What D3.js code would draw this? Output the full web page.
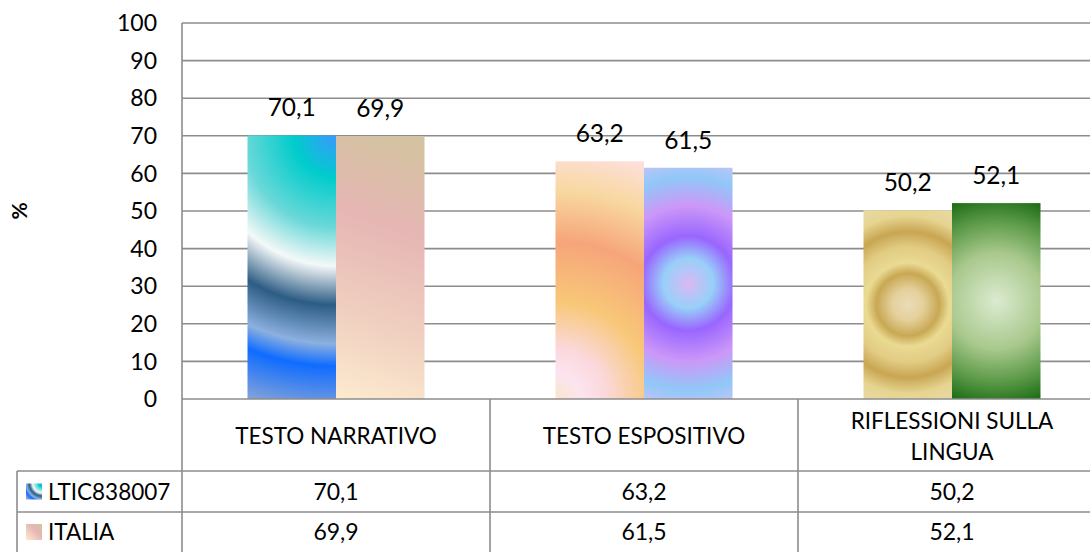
<!DOCTYPE html>
<html lang="it">
<head>
<meta charset="UTF-8">
<title>Prove INVALSI - Italiano</title>
<script src="https://d3js.org/d3.v7.min.js"></script>
<style>
  body { margin: 0; background: #fff; }
  text { font-family: Lato, "Open Sans", sans-serif; fill: #000; }
  .grid line { stroke: #8c8c8c; stroke-width: 1.6; }
  .tbl { stroke: #8c8c8c; stroke-width: 1.6; }
</style>
</head>
<body>
<div id="chart"></div>
<script>
// data
const categories = ["TESTO NARRATIVO", "TESTO ESPOSITIVO", "RIFLESSIONI SULLA LINGUA"];
const catLines = [["TESTO NARRATIVO"], ["TESTO ESPOSITIVO"], ["RIFLESSIONI SULLA", "LINGUA"]];
const series = ["LTIC838007", "ITALIA"];
const ltic = [70.1, 63.2, 50.2];
const italia = [69.9, 61.5, 52.1];
const yTicks = [0, 10, 20, 30, 40, 50, 60, 70, 80, 90, 100];

const values = [ltic, italia];
const fmt = v => String(v.toFixed(1)).replace(".", ",");

const width = 1090, height = 552;
const plot = { left: 182, top: 23, bottom: 399 };
const step = 308;

const svg = d3.select("#chart").append("svg")
  .attr("width", width).attr("height", height);
const defs = svg.append("defs");

const x0 = d3.scaleBand().domain(categories)
  .range([plot.left, plot.left + step * categories.length]);
const x1 = d3.scaleBand().domain(series)
  .range([0, x0.bandwidth()]).paddingInner(0).paddingOuter(0.74);
const y = d3.scaleLinear().domain([0, 100]).range([plot.bottom, plot.top]);

// gridlines
svg.append("g").attr("class", "grid")
  .selectAll("line").data(yTicks.slice(1)).join("line")
  .attr("x1", plot.left).attr("x2", width)
  .attr("y1", d => y(d)).attr("y2", d => y(d));

// y tick labels
svg.append("g").selectAll("text").data(yTicks).join("text")
  .attr("x", 157).attr("y", d => y(d)).attr("dy", "0.36em")
  .attr("text-anchor", "end").style("font-size", "23px")
  .text(d => d);

svg.append("text")
  .attr("transform", `translate(27,${(plot.top + plot.bottom) / 2}) rotate(-90)`)
  .attr("text-anchor", "middle").style("font-size", "21px").style("font-weight", "bold")
  .text("%");

function addGradient(id, type, cfg) {
  let g;
  if (type === "linear") {
    g = defs.append("linearGradient").attr("id", id)
      .attr("gradientUnits", "userSpaceOnUse")
      .attr("x1", cfg.x1).attr("y1", cfg.y1).attr("x2", cfg.x2).attr("y2", cfg.y2);
  } else {
    g = defs.append("radialGradient").attr("id", id)
      .attr("gradientUnits", "userSpaceOnUse")
      .attr("cx", cfg.cx).attr("cy", cfg.cy).attr("r", cfg.r)
      .attr("fx", cfg.cx).attr("fy", cfg.cy);
  }
  g.selectAll("stop").data(cfg.stops).join("stop")
    .attr("offset", d => d[0]).attr("stop-color", d => d[1]);
}

// per-bar gradient fills (Excel preset look), placed from the bar's own box
function gradFor(si, ci, bx, by, bw, bh) {
  const id = `g${si}${ci}`;
  const R = (dx, dy) => Math.sqrt(dx * dx + dy * dy);
  if (si === 0 && ci === 0) {
    addGradient(id, "radial", { cx: bx + bw, cy: by, r: R(bw, bh),
      stops: [[0, "#3a98ff"], [0.15, "#00cccc"], [0.33, "#6ad8d8"], [0.47, "#f4f8f8"], [0.61, "#2c5c84"], [0.75, "#8cb0e0"], [0.83, "#0f6cff"], [1, "#86a4d8"]] });
  } else if (si === 1 && ci === 0) {
    addGradient(id, "linear", { x1: bx + bw, y1: by, x2: bx, y2: by + bh,
      stops: [[0, "#d2c49e"], [0.35, "#e6b6b4"], [0.7, "#f0d0c0"], [1, "#fdebcf"]] });
  } else if (si === 0 && ci === 1) {
    addGradient(id, "radial", { cx: bx, cy: by + bh, r: R(bw, bh),
      stops: [[0, "#f8e6cc"], [0.1, "#fce4f0"], [0.2, "#fbd8dc"], [0.38, "#f8c878"], [0.62, "#f6a57a"], [0.82, "#f8d8a0"], [1, "#fde0e0"]] });
  } else if (si === 1 && ci === 1) {
    addGradient(id, "radial", { cx: bx + bw / 2, cy: by + bh / 2, r: R(bw / 2, bh / 2),
      stops: [[0, "#dcb8f0"], [0.1, "#b8c4f8"], [0.2, "#98d0f8"], [0.38, "#9966ff"], [0.63, "#cc98f8"], [0.86, "#90c8f8"], [1, "#bcc4f8"]] });
  } else if (si === 0 && ci === 2) {
    addGradient(id, "radial", { cx: bx + bw / 2, cy: by + bh / 2, r: R(bw / 2, bh / 2),
      stops: [[0, "#eadcba"], [0.15, "#e4d09a"], [0.3, "#c8a854"], [0.4, "#eada92"], [0.55, "#e2cc84"], [0.7, "#c8a652"], [0.85, "#e6d490"], [1, "#e8daa6"]] });
  } else {
    addGradient(id, "radial", { cx: bx + bw / 2, cy: by + bh / 2, r: R(bw / 2, bh / 2),
      stops: [[0, "#dcebd0"], [0.45, "#a8c88c"], [0.75, "#5c9a48"], [1, "#1a6a14"]] });
  }
  return `url(#${id})`;
}

// bars
const barData = [];
series.forEach((s, si) => categories.forEach((c, ci) => {
  barData.push({ s, si, c, ci, v: values[si][ci] });
}));

svg.append("g").selectAll("rect").data(barData).join("rect")
  .attr("x", d => x0(d.c) + x1(d.s))
  .attr("y", d => y(d.v))
  .attr("width", x1.bandwidth())
  .attr("height", d => y(0) - y(d.v))
  .attr("fill", d => gradFor(d.si, d.ci, x0(d.c) + x1(d.s), y(d.v), x1.bandwidth(), y(0) - y(d.v)));

// value labels
svg.append("g").selectAll("text").data(barData).join("text")
  .attr("x", d => x0(d.c) + x1(d.s) + x1.bandwidth() / 2)
  .attr("y", d => y(d.v) - 19)
  .attr("text-anchor", "middle").style("font-size", "24.5px")
  .text(d => fmt(d.v));

// data table
const rowTop = [plot.bottom, 471, 512, 552];
const tbl = svg.append("g");
tbl.append("line").attr("class", "tbl")
  .attr("x1", plot.left).attr("x2", width).attr("y1", plot.bottom).attr("y2", plot.bottom);
tbl.selectAll("line.h").data([rowTop[1], rowTop[2]]).join("line").attr("class", "tbl")
  .attr("x1", 17).attr("x2", width).attr("y1", d => d).attr("y2", d => d);
tbl.append("line").attr("class", "tbl")
  .attr("x1", plot.left).attr("x2", plot.left).attr("y1", plot.top).attr("y2", height);
tbl.append("line").attr("class", "tbl")
  .attr("x1", 17).attr("x2", 17).attr("y1", rowTop[1]).attr("y2", height);
tbl.selectAll("line.v").data(categories.slice(1)).join("line").attr("class", "tbl")
  .attr("x1", d => x0(d)).attr("x2", d => x0(d)).attr("y1", plot.bottom).attr("y2", height);

// header row (category names)
categories.forEach((c, ci) => {
  const lines = catLines[ci];
  const cy = (rowTop[0] + rowTop[1]) / 2 + 1;
  const lh = 31;
  lines.forEach((ln, li) => {
    tbl.append("text")
      .attr("x", x0(c) + x0.bandwidth() / 2)
      .attr("y", cy + (li - (lines.length - 1) / 2) * lh)
      .attr("dy", "0.36em").attr("text-anchor", "middle")
      .style("font-size", "22.5px").text(ln);
  });
});

// series rows
series.forEach((s, si) => {
  const cy = (rowTop[si + 1] + rowTop[si + 2]) / 2;
  const key = `k${si}`;
  const kg = defs.append(si === 0 ? "radialGradient" : "linearGradient").attr("id", key);
  if (si === 0) {
    kg.attr("cx", 1).attr("cy", 0).attr("r", 1.3);
    kg.selectAll("stop").data([[0, "#3a98ff"], [0.15, "#00cccc"], [0.45, "#f4f8f8"], [0.6, "#2c5c84"], [0.75, "#8cb0e0"], [0.85, "#0f6cff"], [1, "#86a4d8"]])
      .join("stop").attr("offset", d => d[0]).attr("stop-color", d => d[1]);
  } else {
    kg.attr("x1", 1).attr("y1", 0).attr("x2", 0).attr("y2", 1);
    kg.selectAll("stop").data([[0, "#d2c49e"], [0.4, "#e6b6b4"], [1, "#fdebcf"]])
      .join("stop").attr("offset", d => d[0]).attr("stop-color", d => d[1]);
  }
  tbl.append("rect").attr("x", 26).attr("y", cy - 8).attr("width", 16).attr("height", 16)
    .attr("fill", `url(#${key})`);
  tbl.append("text").attr("x", 48).attr("y", cy).attr("dy", "0.36em")
    .style("font-size", "22.5px").text(s);
  categories.forEach((c, ci) => {
    tbl.append("text")
      .attr("x", x0(c) + x0.bandwidth() / 2).attr("y", cy).attr("dy", "0.36em")
      .attr("text-anchor", "middle").style("font-size", "23px")
      .text(fmt(values[si][ci]));
  });
});
</script>
</body>
</html>
